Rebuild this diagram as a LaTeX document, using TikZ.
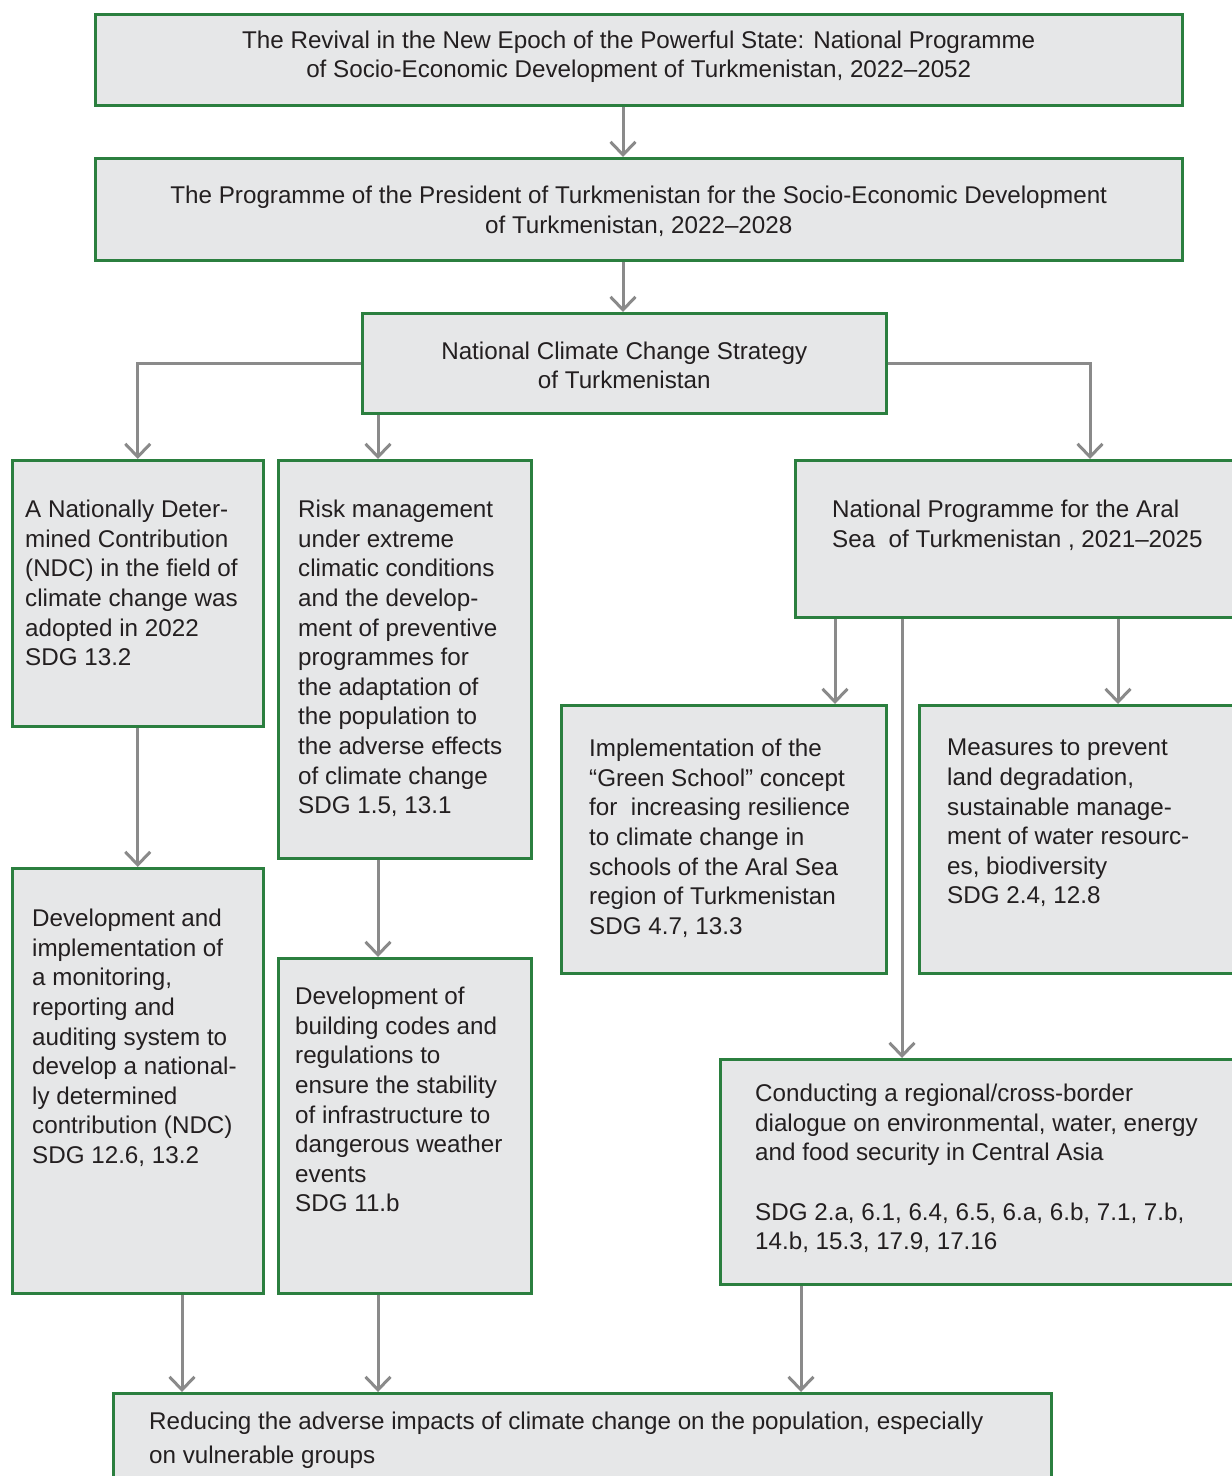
\documentclass[tikz,border=0pt]{standalone}
\usepackage{fontspec}
\setmainfont{Liberation Sans}
\usetikzlibrary{arrows.meta,calc}
\definecolor{bgreen}{HTML}{2B7F3F}
\definecolor{bfill}{HTML}{E6E7E8}
\definecolor{arr}{HTML}{8A8A8A}
\definecolor{txtc}{HTML}{231F20}
\tikzset{
  box/.style={draw=bgreen, line width=2.5pt, fill=bfill, rectangle, inner sep=0pt},
  ctext/.style={align=center, text=txtc, font=\fontsize{24.2}{29.6}\selectfont},
  ltext/.style={align=left, anchor=north west, inner sep=0pt, text=txtc, font=\fontsize{24.2}{29.6}\selectfont},
  conn/.style={draw=arr, line width=3pt, -{Straight Barb[length=13pt,width=25pt]}},
}
\begin{document}
\begin{tikzpicture}[x=1pt,y=-1pt]
\useasboundingbox (0,0) rectangle (1232,1476);
% boxes
\node[box, minimum width=1087pt, minimum height=91pt, anchor=north west] (b1) at (94,13) {};
\node[ctext] (t1) at ($(b1.center)+(0,-3)$) {The Revival in the New Epoch of the Powerful State: National Programme\\of Socio-Economic Development of Turkmenistan, 2022–2052};
\node[box, minimum width=1087pt, minimum height=102pt, anchor=north west] (b2) at (94,157) {};
\node[ctext] (t2) at ($(b2.center)+(0,2)$) {The Programme of the President of Turkmenistan for the Socio-Economic Development\\of Turkmenistan, 2022–2028};
\node[box, minimum width=524pt, minimum height=100pt, anchor=north west] (b3) at (361,312) {};
\node[ctext] (t3) at ($(b3.center)+(0,2)$) {National Climate Change Strategy\\of Turkmenistan};

\node[box, minimum width=251pt, minimum height=266pt, anchor=north west] (ndc) at (11,459) {};
\node[ltext] (tndc) at (25,500) {A Nationally Deter-\\mined Contribution\\(NDC) in the field of\\climate change was\\adopted in 2022\\SDG 13.2};

\node[box, minimum width=253pt, minimum height=398pt, anchor=north west] (risk) at (277,459) {};
\node[ltext] (trisk) at (298,500) {Risk management\\under extreme\\climatic conditions\\and the develop-\\ment of preventive\\programmes for\\the adaptation of\\the population to\\the adverse effects\\of climate change\\SDG 1.5, 13.1};

\node[box, minimum width=450pt, minimum height=157pt, anchor=north west] (aral) at (794,459) {};
\node[ltext] (taral) at (832,500) {National Programme for the Aral\\Sea\ \ of Turkmenistan , 2021–2025};

\node[box, minimum width=325pt, minimum height=268pt, anchor=north west] (green) at (560,704) {};
\node[ltext] (tgreen) at (589,739) {Implementation of the\\“Green School” concept\\for\ \ increasing resilience\\to climate change in\\schools of the Aral Sea\\region of Turkmenistan\\SDG 4.7, 13.3};

\node[box, minimum width=326pt, minimum height=268pt, anchor=north west] (meas) at (918,704) {};
\node[ltext] (tmeas) at (947,739) {Measures to prevent\\land degradation,\\sustainable manage-\\ment of water resourc-\\es, biodiversity\\SDG 2.4, 12.8};

\node[box, minimum width=251pt, minimum height=425pt, anchor=north west] (mon) at (11,867) {};
\node[ltext] (tmon) at (32,909) {Development and\\implementation of\\a monitoring,\\reporting and\\auditing system to\\develop a national-\\ly determined\\contribution (NDC)\\SDG 12.6, 13.2};

\node[box, minimum width=253pt, minimum height=335pt, anchor=north west] (build) at (277,957) {};
\node[ltext] (tbuild) at (295,987) {Development of\\building codes and\\regulations to\\ensure the stability\\of infrastructure to\\dangerous weather\\events\\SDG 11.b};

\node[box, minimum width=525pt, minimum height=225pt, anchor=north west] (cond) at (719,1058) {};
\node[ltext] (tcond) at (755,1084) {Conducting a regional/cross-border\\dialogue on environmental, water, energy\\and food security in Central Asia\\\mbox{}\\SDG 2.a, 6.1, 6.4, 6.5, 6.a, 6.b, 7.1, 7.b,\\14.b, 15.3, 17.9, 17.16};

\node[box, minimum width=938pt, minimum height=100pt, anchor=north west] (red) at (112,1392) {};
\node[ltext, font=\fontsize{24.2}{34}\selectfont] (tred) at (149,1412) {Reducing the adverse impacts of climate change on the population, especially\\on vulnerable groups};

% connectors
\draw[conn] (b1.south -| 623,0) -- (b2.north -| 623,0);
\draw[conn] (b2.south -| 623,0) -- (b3.north -| 623,0);
\draw[conn] (b3.west) -| (ndc.north);
\draw[conn] (b3.south -| 378,0) -- (risk.north -| 378,0);
\draw[conn] (b3.east) -| (aral.north -| 1090,0);
\draw[conn] (ndc.south) -- (mon.north);
\draw[conn] (risk.south -| 378,0) -- (build.north -| 378,0);
\draw[conn] (aral.south -| 835,0) -- (green.north -| 835,0);
\draw[conn] (aral.south -| 1118,0) -- (meas.north -| 1118,0);
\draw[conn] (aral.south -| 902,0) -- (cond.north -| 902,0);
\draw[conn] (mon.south -| 182,0) -- (red.north -| 182,0);
\draw[conn] (build.south -| 378,0) -- (red.north -| 378,0);
\draw[conn] (cond.south -| 801,0) -- (red.north -| 801,0);
\end{tikzpicture}
\end{document}
